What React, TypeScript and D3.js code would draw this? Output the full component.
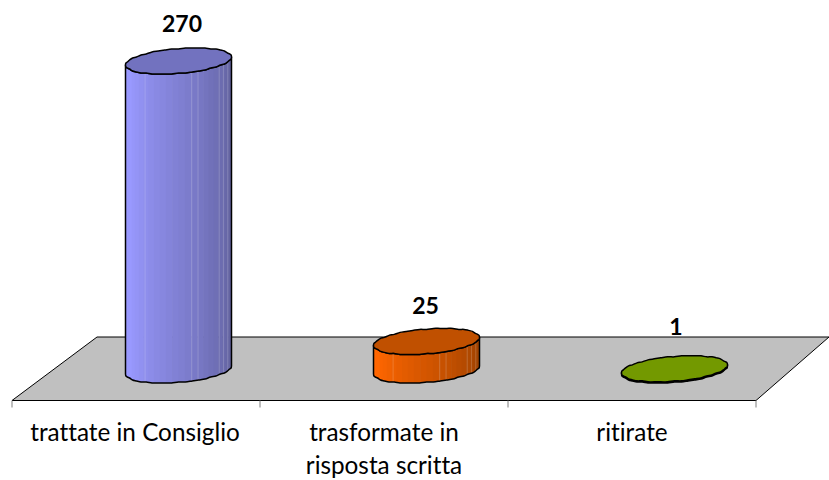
import React from "react";
import * as d3 from "d3";

const categories = ["trattate in Consiglio", "trasformate in\nrisposta scritta", "ritirate"];
const values = [270, 25, 1];
const sideLight = ["#9999ff", "#ff6600", "#739900"];
const sideDark = ["#5f5f99", "#994000", "#739900"];
const capColours = ["#7272bf", "#c05000", "#739900"];
const seamFractions = [0.18, 0.62, 0.68, 0.88, 0.92, 0.96];

const W = 829;
const H = 480;
const FONT = "Lato, Carlito, Calibri, sans-serif";

const floorLeft = 12;
const floorRight = 756;
const floorFront = 400.5;
const floorBack = 337;

const band = d3.scaleBand<number>().domain(d3.range(categories.length)).range([floorLeft, floorRight]);
const yScale = d3.scaleLinear().domain([0, 270]).range([370, 61]);

const RX = 53;
const RY = 12.4;
const SKEW = 4;
const STRIPS = 26;
const CYLINDER_OFFSET = 42.5;

// Perimeter of a cylinder end; y snaps to whole pixels to give the slightly bumpy outline.
function rim(cx: number, cy: number, from: number, to: number, n: number): [number, number][] {
  return d3.range(n + 1).map((i) => {
    const t = from + ((to - from) * i) / n;
    const x = cx + RX * Math.cos(t);
    const y = cy + RY * Math.sin(t) - SKEW * Math.cos(t);
    const isEnd = i === 0 || i === n;
    return [x, isEnd ? y : cy + Math.round(y - cy)];
  });
}

const line = d3.line();
const softLine = d3.line().curve(d3.curveCatmullRom.alpha(0.5));
const softLoop = d3.line().curve(d3.curveCatmullRomClosed.alpha(0.5));

export default function App() {
  const step = band.step();
  return (
    <svg width={W} height={H} style={{ position: "fixed", left: 0, top: 0, background: "#fff" }}>
      <polygon
        points={`${floorLeft},${floorFront} ${floorRight},${floorFront} ${W},${floorBack} 97,${floorBack}`}
        fill="#c0c0c0"
      />
      <line x1={97} y1={floorBack} x2={W} y2={floorBack} stroke="#000" strokeWidth={1} />
      <line x1={floorLeft} y1={floorFront} x2={97} y2={floorBack} stroke="#000" strokeWidth={1} />
      <line x1={floorRight} y1={floorFront} x2={W} y2={floorBack} stroke="#000" strokeWidth={1} />
      <line x1={floorLeft} y1={floorFront} x2={floorRight} y2={floorFront} stroke="#000" strokeWidth={1.2} />
      {d3.range(categories.length + 1).map((i) => {
        const x = floorLeft + i * step;
        return <line key={i} x1={x} y1={floorFront} x2={x} y2={floorFront + 7} stroke="#7f7f7f" strokeWidth={1} />;
      })}

      {values.map((v, i) => {
        const centre = band(i)! + step / 2;
        const cx = centre + CYLINDER_OFFSET;
        const yBase = yScale(0);
        const yTop = yScale(v);
        const colour = d3.scaleLinear<string>().domain([0, 1]).range([sideLight[i], sideDark[i]]);
        const stripEdges = d3.range(STRIPS + 1).map((k) => -Math.PI + (Math.PI * k) / STRIPS);
        const bottomEdge = softLine(rim(cx, yBase, 0, Math.PI, 24)) as string;
        const rimTop = rim(cx, yTop, Math.PI, 0, 24);
        const body = `${line(rimTop)}L${bottomEdge.slice(1)}Z`;
        const clipId = `body-${i}`;
        // Value labels sit on a slightly different offset for each column height.
        const labelY = v > 100 ? yTop - 29 : v > 10 ? yTop - 27 : yTop - 33.5;
        const labelX = cx + (v > 100 ? 3.5 : v > 10 ? -1 : 1.5);
        return (
          <g key={i}>
            <clipPath id={clipId}>
              <path d={body} />
            </clipPath>
            <g clipPath={`url(#${clipId})`}>
              {stripEdges.slice(0, -1).map((a, k) => {
                const x0 = cx + RX * Math.cos(a);
                const x1 = cx + RX * Math.cos(stripEdges[k + 1]);
                const f = k / (STRIPS - 1);
                return (
                  <rect
                    key={k}
                    x={x0}
                    width={x1 - x0 + 0.6}
                    y={yTop - 20}
                    height={yBase - yTop + 40}
                    fill={colour(Math.min(1, Math.max(0, (f - 0.12) / 0.88)))}
                  />
                );
              })}
              {seamFractions.map((f) => (
                <rect
                  key={f}
                  x={cx - RX + 2 * RX * f}
                  width={1}
                  y={yTop - 20}
                  height={yBase - yTop + 40}
                  fill="#fff"
                  opacity={0.18}
                />
              ))}
            </g>
            <path d={body} fill="none" stroke="#000" strokeWidth={1.5} strokeLinejoin="round" />
            <path
              d={softLoop(rim(cx, yTop, 0, Math.PI * 2, 48).slice(0, -1)) as string}
              fill={capColours[i]}
              stroke="#000"
              strokeWidth={1.5}
              strokeLinejoin="round"
            />
            <text
              x={labelX}
              y={labelY}
              textAnchor="middle"
              fontFamily={FONT}
              fontWeight={700}
              fontSize={23}
              fill="#000"
            >
              {v}
            </text>
            {categories[i].split("\n").map((t, j) => (
              <text
                key={j}
                x={centre - (i === 0 ? 1 : 0)}
                y={441 + j * 33}
                textAnchor="middle"
                fontFamily={FONT}
                fontSize={24.3}
                fill="#000"
                style={{ fontVariantLigatures: "none" }}
              >
                {t}
              </text>
            ))}
          </g>
        );
      })}
    </svg>
  );
}
